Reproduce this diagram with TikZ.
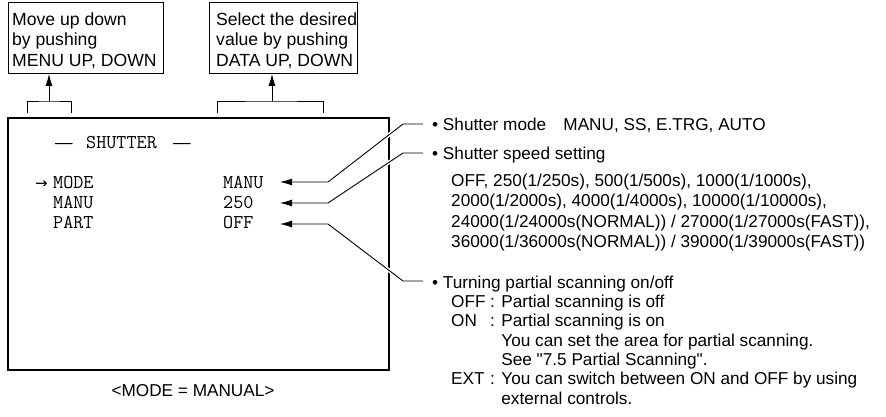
\documentclass[tikz,border=0pt]{standalone}
\usepackage{fontspec}
\setmainfont{Liberation Sans}[Ligatures=TeXOff]
\newfontfamily\symf{DejaVu Sans}
\usetikzlibrary{arrows.meta}
\begin{document}
\begin{tikzpicture}[x=1pt,y=-1pt,
  txt/.style={inner sep=0pt,anchor=base west,font=\fontsize{17.2}{20}\selectfont},
  ttxt/.style={inner sep=0pt,anchor=base west,font=\fontsize{17.6}{20}\selectfont},
  mtxt/.style={inner sep=0pt,anchor=base west,font=\ttfamily\fontsize{19.6}{22}\selectfont},
  frame/.style={draw,line width=1.6pt,inner sep=0pt},
  boxn/.style={draw,line width=0.9pt,inner sep=0pt,anchor=north west},
  thinl/.style={draw,line width=0.9pt},
  leader/.style={draw,line width=0.9pt,preaction={draw,white,line width=4pt}},
  tip/.style={-{Latex[length=12pt,width=7pt]}}]
\useasboundingbox (0,0) rectangle (886,416);

% top boxes
\node[boxn,minimum width=155pt,minimum height=71pt] (box1) at (8,2) {};
\node[boxn,minimum width=148pt,minimum height=71pt] (box2) at (209,2) {};
\node[ttxt] (b1a) at (12,25) {Move up down};
\node[ttxt] (b1b) at (12,45.5) {by pushing};
\node[ttxt] (b1c) at (12,66) {MENU UP, DOWN};
\node[ttxt] (b2a) at (216,25) {Select the desired};
\node[ttxt] (b2b) at (216,45.5) {value by pushing};
\node[ttxt] (b2c) at (216,66) {DATA UP, DOWN};

% brackets
\coordinate (k1l) at (27,113); \coordinate (k1r) at (71,113); \coordinate (k1m) at (49,101);
\coordinate (k2l) at (217,113); \coordinate (k2r) at (323,113); \coordinate (k2m) at (272,101);
\draw[thinl] (k1l) |- (k1m) -| (k1r);
\draw[thinl] (k2l) |- (k2m) -| (k2r);
\draw[thinl,tip] (k1m) -- (k1m |- box1.south);
\draw[thinl,tip] (k2m) -- (k2m |- box2.south);

% screen
\node[frame,anchor=north west,minimum width=381pt,minimum height=252pt] (screen) at (7,117) {};
\node[txt,font=\fontsize{17.5}{20}\selectfont] (d1) at (55,148) {—};
\node[mtxt] (title) at (86,148) {SHUTTER};
\node[txt,font=\fontsize{17.5}{20}\selectfont] (d2) at (173,148) {—};
\node[inner sep=0pt,anchor=base west,font=\symf\fontsize{15}{18}\selectfont] (cur) at (35,188) {→};
\node[mtxt] (r1) at (53,188) {MODE};
\node[mtxt] (r2) at (53,208) {MANU};
\node[mtxt] (r3) at (53,228) {PART};
\node[mtxt] (v1) at (223,188) {MANU};
\node[mtxt] (v2) at (223,208) {250};
\node[mtxt] (v3) at (223,228) {OFF};
\node[txt,anchor=base] (cap) at (193,396) {<MODE = MANUAL>};

% leaders
\coordinate (a1) at (280,182); \coordinate (c1) at (328,182); \coordinate (e1) at (403,124); \coordinate (t1) at (423,124);
\coordinate (a2) at (280,203); \coordinate (c2) at (328,203); \coordinate (e2) at (403,153); \coordinate (t2) at (423,153);
\coordinate (a3) at (280,224); \coordinate (c3) at (328,224); \coordinate (e3) at (403,281); \coordinate (t3) at (423,281);
\draw[leader,tip] (t1) -- (e1) -- (c1) -- (a1);
\draw[leader,tip] (t2) -- (e2) -- (c2) -- (a2);
\draw[leader,tip] (t3) -- (e3) -- (c3) -- (a3);

% descriptions
\node[txt] (h1) at (432,130) {• Shutter mode\hspace{1em}MANU, SS, E.TRG, AUTO};
\node[txt] (h2) at (432,159) {• Shutter speed setting};
\node[txt] (s1) at (451,186) {OFF, 250(1/250s), 500(1/500s), 1000(1/1000s),};
\node[txt] (s2) at (451,206.5) {2000(1/2000s), 4000(1/4000s), 10000(1/10000s),};
\node[txt] (s3) at (451,227) {24000(1/24000s(NORMAL)) / 27000(1/27000s(FAST)),};
\node[txt] (s4) at (451,247.5) {36000(1/36000s(NORMAL)) / 39000(1/39000s(FAST))};
\node[txt] (h3) at (432,288) {• Turning partial scanning on/off};
\node[txt] (p1k) at (451,307) {OFF};
\node[txt] (p1v) at (490,307) {: Partial scanning is off};
\node[txt] (p2k) at (451,326.5) {ON};
\node[txt] (p2v) at (490,326.5) {: Partial scanning is on};
\node[txt] (p2b) at (490,346) {\phantom{: }You can set the area for partial scanning.};
\node[txt] (p2c) at (490,365) {\phantom{: }See "7.5 Partial Scanning".};
\node[txt] (p3k) at (451,384.5) {EXT};
\node[txt] (p3v) at (490,384.5) {: You can switch between ON and OFF by using};
\node[txt] (p3b) at (490,404) {\phantom{: }external controls.};
\end{tikzpicture}
\end{document}
